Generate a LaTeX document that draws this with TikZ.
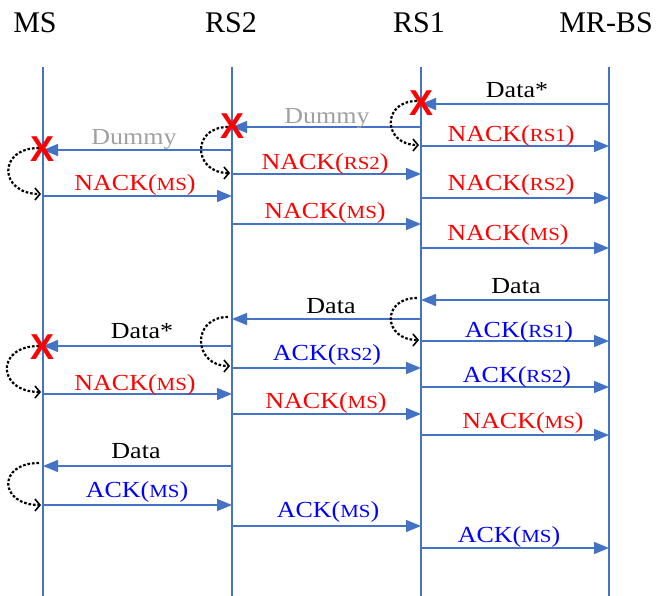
\documentclass[tikz,border=0pt]{standalone}
\usepackage{fontspec}
\setmainfont{Liberation Serif}
\newfontfamily\xmarkfont{Liberation Sans}
\usetikzlibrary{arrows.meta}
\definecolor{lineblue}{RGB}{68,114,196}
\definecolor{dummygray}{RGB}{160,160,160}
\newcommand\lbl[1]{\scalebox{1.13}[1]{#1}}
\newcommand\sm[1]{{\fontsize{18.5}{18.5}\selectfont #1}}
\tikzset{
  lifeline/.style={draw=lineblue, line width=2pt},
  msg/.style={draw=lineblue, line width=1.4pt, -{Triangle[length=15pt,width=12pt]}},
  retry/.style={draw=black, line width=2.2pt, dash pattern=on 2.6pt off 1.9pt,
    -{Straight Barb[length=5pt,width=12pt,line width=1.6pt]}},
  header/.style={font=\fontsize{30}{30}\selectfont, anchor=base, inner sep=0pt},
  mlabel/.style={font=\fontsize{23}{23}\selectfont, anchor=base, inner sep=0pt},
  nack/.style={mlabel, text=red},
  ack/.style={mlabel, text=blue},
  dummylbl/.style={mlabel, text=dummygray},
  datalbl/.style={mlabel, text=black},
  failx/.style={font=\xmarkfont\bfseries\fontsize{36}{36}\selectfont, text=red, inner sep=0pt, anchor=center},
}
\begin{document}
\begin{tikzpicture}[x=1pt,y=-1pt]
\useasboundingbox (0,0) rectangle (658,596);
% headers
\node[header] (hMS)  at (35,33)  {MS};
\node[header] (hRS2) at (231,33) {RS2};
\node[header] (hRS1) at (419,33) {RS1};
\node[header] (hBS)  at (606,33) {MR-BS};
% lifelines
\coordinate (msT) at (43,67);   \coordinate (msB) at (43,596);
\coordinate (rs2T) at (232,67); \coordinate (rs2B) at (232,596);
\coordinate (rs1T) at (421,67); \coordinate (rs1B) at (421,596);
\coordinate (bsT) at (609,67);  \coordinate (bsB) at (609,596);
\draw[lifeline] (msT) -- (msB);
\draw[lifeline] (rs2T) -- (rs2B);
\draw[lifeline] (rs1T) -- (rs1B);
\draw[lifeline] (bsT) -- (bsB);
% message end points
\foreach \i/\xs/\xe/\y in {
  1/609/421/104, 2/421/232/127, 3/421/609/146, 4/232/43/150,
  5/232/421/174, 6/421/609/198, 7/43/232/196, 8/232/421/224,
  9/421/609/248, 10/609/421/300, 11/421/232/319, 12/421/609/341,
  13/232/43/346, 14/232/421/368, 15/421/609/387, 16/43/232/394,
  17/232/421/414, 18/421/609/435, 19/232/43/466, 20/43/232/505,
  21/232/421/526, 22/421/609/548}{
  \coordinate (s\i) at (\xs,\y);
  \coordinate (e\i) at (\xe,\y);
}
\foreach \i in {1,...,22}{\draw[msg] (s\i) -- (e\i);}
% labels
\node[datalbl]  (l1)  at (517,98)  {\lbl{Data*}};
\node[dummylbl] (l2)  at (327,124) {\lbl{Dummy}};
\node[nack]     (l3)  at (511,142) {\lbl{NACK(\sm{RS1})}};
\node[dummylbl] (l4)  at (134,145) {\lbl{Dummy}};
\node[nack]     (l5)  at (325,170) {\lbl{NACK(\sm{RS2})}};
\node[nack]     (l6)  at (511,190) {\lbl{NACK(\sm{RS2})}};
\node[nack]     (l7)  at (135,190) {\lbl{NACK(\sm{MS})}};
\node[nack]     (l8)  at (325,218) {\lbl{NACK(\sm{MS})}};
\node[nack]     (l9)  at (508,240) {\lbl{NACK(\sm{MS})}};
\node[datalbl]  (l10) at (516,293) {\lbl{Data}};
\node[datalbl]  (l11) at (331,313) {\lbl{Data}};
\node[ack]      (l12) at (519,337) {\lbl{ACK(\sm{RS1})}};
\node[datalbl]  (l13) at (142,338) {\lbl{Data*}};
\node[ack]      (l14) at (327,360) {\lbl{ACK(\sm{RS2})}};
\node[ack]      (l15) at (517,382) {\lbl{ACK(\sm{RS2})}};
\node[nack]     (l16) at (135,390) {\lbl{NACK(\sm{MS})}};
\node[nack]     (l17) at (326,408) {\lbl{NACK(\sm{MS})}};
\node[nack]     (l18) at (523,428) {\lbl{NACK(\sm{MS})}};
\node[datalbl]  (l19) at (136,458) {\lbl{Data}};
\node[ack]      (l20) at (137,497) {\lbl{ACK(\sm{MS})}};
\node[ack]      (l21) at (328,517) {\lbl{ACK(\sm{MS})}};
\node[ack]      (l22) at (509,542) {\lbl{ACK(\sm{MS})}};
% retransmission loops
\foreach \j/\x/\yt/\yb/\w in {
  1/421/101/145/36, 2/232/127/173/37, 3/43/148/194/42,
  4/421/298/340/36, 5/232/317/366/37, 6/43/346/392/44, 7/43/463/505/42}{
  \coordinate (lt\j) at (\x-4,\yt);
  \coordinate (lb\j) at (\x-2,\yb);
  \coordinate (lc\j) at (\x-4-\w,\yt);
  \coordinate (ld\j) at (\x-2-\w,\yb);
  \draw[retry] (lt\j) .. controls (lc\j) and (ld\j) .. (lb\j);
}
% failure marks
\node[failx] (x1) at (421,103) {X};
\node[failx] (x2) at (233,126) {X};
\node[failx] (x3) at (43,149)  {X};
\node[failx] (x4) at (43,347)  {X};
\end{tikzpicture}
\end{document}
